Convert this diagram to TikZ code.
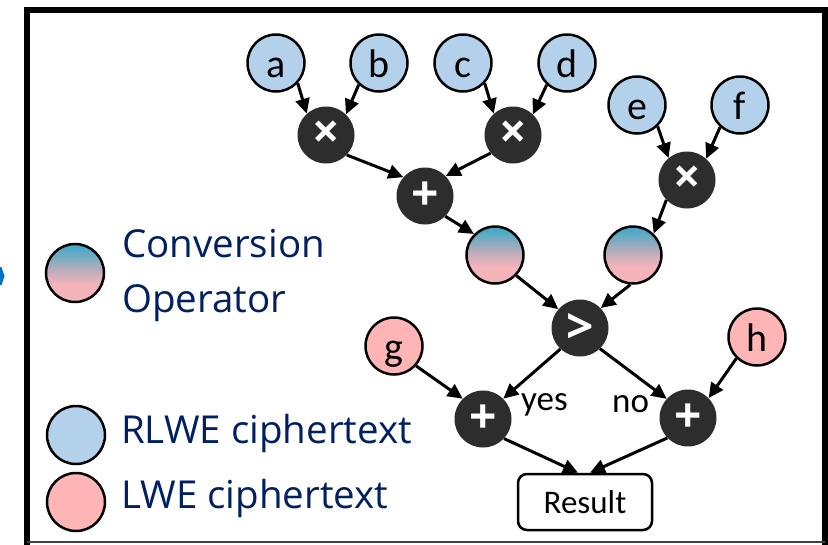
\documentclass[tikz,border=0pt]{standalone}
\usepackage{fontspec}
\setmainfont{Carlito}
\newfontfamily\legendfont{Open Sans}
\usetikzlibrary{arrows.meta,shadings}

\definecolor{rlwe}{RGB}{180,209,235}
\definecolor{lwe}{RGB}{255,180,182}
\definecolor{opdark}{RGB}{45,45,45}
\definecolor{navy}{RGB}{0,32,96}
\definecolor{convtop}{RGB}{70,170,198}
\definecolor{convmid}{RGB}{185,172,186}
\definecolor{convbot}{RGB}{244,180,186}
\definecolor{chevron}{RGB}{0,112,192}

% teal fading into pink, top to bottom (middle 50bp spans the node)
\pgfdeclareverticalshading{convshade}{100bp}{color(0bp)=(convbot); color(25bp)=(convbot); color(40bp)=(convbot); color(53bp)=(convmid); color(72bp)=(convtop); color(100bp)=(convtop)}

\tikzset{
  ct/.style={circle, draw=black, line width=2.5pt, minimum size=57pt, inner sep=0pt,
             text height=28pt, text depth=0pt,
             font=\fontsize{40}{40}\selectfont},
  rl/.style={ct, fill=rlwe},
  lw/.style={ct, fill=lwe},
  conv/.style={ct, shade, shading=convshade},
  op/.style={circle, fill=opdark, minimum size=57pt, inner sep=0pt, text=white,
             font=\legendfont\bfseries\fontsize{48}{48}\selectfont},
  link/.style={line width=3pt, -{Triangle[length=15pt,width=14pt]}},
  legendtext/.style={anchor=base west, inner sep=0pt, text=navy,
             font=\legendfont\fontsize{38.5}{38.5}\selectfont},
  lbl/.style={anchor=base west, inner sep=0pt, font=\fontsize{35}{35}\selectfont},
  resultbox/.style={rectangle, draw=black, line width=2.5pt, rounded corners=9pt,
             minimum width=134pt, minimum height=56pt, fill=white,
             font=\fontsize{33}{33}\selectfont},
}

\begin{document}
\begin{tikzpicture}[x=1pt,y=-1pt]
\useasboundingbox (0,0) rectangle (828,544);
\fill[white] (0,0) rectangle (828,544);

% frame
\draw[line width=6pt, line join=miter] (26.5,550) -- (26.5,10) -- (824.5,10) -- (824.5,550);
\draw[line width=2pt, black!75] (26.5,542) -- (824.5,542);

% blue chevron at the left edge
\fill[chevron] (0,267) -- (1.5,267) -- (4.5,276) -- (1.5,285) -- (0,285) -- cycle;

% inputs
\node[rl] (a) at (276,63) {a};
\node[rl] (b) at (379,63) {b};
\node[rl] (c) at (463,63) {c};
\node[rl] (d) at (567,63) {d};
\node[rl] (e) at (637,105) {e};
\node[rl] (f) at (740,105) {f};
\node[lw] (g) at (394,346) {g};
\node[lw] (h) at (757,337) {h};

% operators
\node[op] (m1) at (326,135) {×};
\node[op] (m2) at (513,135) {×};
\node[op] (m3) at (687,180) {×};
\node[op] (s1) at (425,196) {+};
\node[conv] (cv1) at (495,255) {};
\node[conv] (cv2) at (633,255) {};
\node[op] (gt) at (580,328) {>};
\node[op] (sL) at (483,419) {+};
\node[op] (sR) at (688,418) {+};
\node[resultbox] (res) at (585,502) {Result};

% connectors
\draw[link] (a.-43) -- (m1.132);
\draw[link] (b.-133) -- (m1.46);
\draw[link] (c.-43) -- (m2.132);
\draw[link] (d.-133) -- (m2.46);
\draw[link] (e.-46) -- (m3.130);
\draw[link] (f.-132) -- (m3.48);
\draw[link] (m1.-44) -- (s1.139);
\draw[link] (m2.-141) -- (s1.44);
\draw[link] (s1.-45) -- (cv1.135);
\draw[link] (m3.-136) -- (cv2.46);
\draw[link] (cv1.-44) -- (gt.139);
\draw[link] (cv2.-95) -- (gt.44);
\draw[link] (gt.-133) -- (sL.45);
\draw[link] (gt.-46) -- (sR.138);
\draw[link] (g.-42) -- (sL.135);
\draw[link] (h.-134) -- (sR.44);
\draw[link] (sL.-43) -- ([xshift=-7pt]res.north);
\draw[link] (sR.-136) -- ([xshift=5pt]res.north);

\node[lbl] (yes) at (521,410) {yes};
\node[lbl] (no) at (612,412) {no};

% legend
\node[conv, minimum size=58pt] (kconv) at (75,273) {};
\node[rl, minimum size=58pt] (krl) at (76,435) {};
\node[lw, minimum size=58pt] (klw) at (76,502) {};
\node[legendtext] (t1) at (122,257) {Conversion};
\node[legendtext] (t2) at (122,312) {Operator};
\node[legendtext] (t3) at (121,443) {RLWE ciphertext};
\node[legendtext] (t4) at (121,508) {LWE ciphertext};
\end{tikzpicture}
\end{document}
